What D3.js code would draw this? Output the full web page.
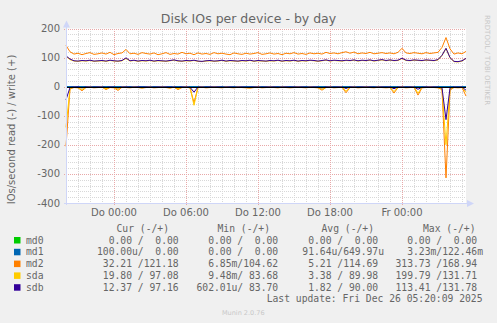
<!DOCTYPE html>
<html>
<head>
<meta charset="utf-8">
<script src="https://cdn.jsdelivr.net/npm/d3@7"></script>
<style>
  body { margin: 0; background: #f0f0f0; }
  svg { display: block; }
</style>
</head>
<body>
<div id="chart"></div>
<script>
// --- Data (read values stored positive, drawn below zero) ---
const seriesNames = ["md0", "md1", "md2", "sda", "sdb"];
const seriesColors = ["#00cc00", "#0066b3", "#ff8000", "#ffcc00", "#330099"];

// 101 samples, 20 minutes apart, starting Wed 24 Dec 2025 20:00
const md0Write = [0,0,0,0,0,0,0,0,0,0,0,0,0,0,0,0,0,0,0,0,0,0,0,0,0,0,0,0,0,0,0,0,0,0,0,0,0,0,0,0,0,0,0,0,0,0,0,0,0,0,0,0,0,0,0,0,0,0,0,0,0,0,0,0,0,0,0,0,0,0,0,0,0,0,0,0,0,0,0,0,0,0,0,0,0,0,0,0,0,0,0,0,0,0,0,0,0,0,0,0,0];
const md0Read  = md0Write;
const md1Write = [0,0,0,0,0,0,0,0,0,0,0,0,0,0,0,0,0,0,0,0,0,0,0,0,0,0,0,0,0,0,0,0,0,0,0,0,0,0,0,0,0,0,0,0,0,0,0,0,0,0,0,0,0,0,0,0,0,0,0,0,0,0,0,0,0,0,0,0,0,0,0,0,0,0,0,0,0,0,0,0,0,0,0,0,0,0,0,0,0,0,0,0,0,0,0,0,0,0,0,0,0];
const md1Read  = md1Write;

const md2Write = [142,120,112,115,110,114,117,111,113,116,112,118,110,114,116,128,113,115,111,117,
  114,112,116,110,113,117,111,114,112,118,113,115,110,116,112,114,111,117,113,115,
  112,110,116,113,111,115,112,114,117,111,113,116,112,114,110,115,113,117,112,114,
  111,116,113,115,112,118,114,116,113,117,120,115,119,113,116,114,118,113,115,117,
  114,116,113,118,132,116,114,117,115,113,117,114,116,118,135,168.94,130,112,116,113,121.18];
const sdaWrite = [104,93,88,87,89,88,90,87,88,89,87,90,88,87,89,97,88,90,87,89,
  88,90,87,89,88,87,89,91,88,87,89,88,90,87,86,88,89,87,88,90,
  87,89,88,87,89,88,90,87,89,88,87,89,88,90,87,89,88,90,87,89,
  88,90,89,87,89,91,88,90,89,88,90,89,91,88,90,89,91,88,90,92,
  89,91,89,90,97,90,89,91,90,89,91,90,89,92,107,131.71,99,86,85,88,97.08];
const sdbWrite = [106,95,89,88,90,89,91,88,89,90,88,91,89,88,90,99,89,91,88,90,
  89,91,88,90,89,88,90,92,89,88,90,89,91,88,87,89,90,88,89,91,
  88,90,89,88,90,89,91,88,90,89,88,90,89,91,88,90,89,91,88,90,
  89,91,90,88,90,92,89,91,90,89,91,90,92,89,91,90,92,89,91,93,
  90,92,90,91,98,91,90,92,91,90,92,91,90,93,108,131.78,100,87,86,89,97.16];

const md2Read = [205,8,3,4,14,3,2,4,3,2,10,3,4,13,2,3,4,2,3,5,
  3,2,4,3,2,3,5,2,10,3,2,4,55,3,2,4,3,2,3,4,
  2,3,4,2,3,4,5,3,2,4,3,2,3,4,2,3,4,3,2,3,
  4,2,3,4,12,3,2,4,3,2,21,3,2,4,3,2,3,4,2,3,
  4,3,22,3,2,4,3,2,29,4,3,2,3,4,10,313.73,12,3,4,3,32.21];
const sdaRead = [140,6,2,3,10,2,1,3,2,1,7,2,3,9,1,2,3,1,2,4,
  2,1,3,2,1,2,4,1,7,2,1,3,64,2,1,3,2,1,2,3,
  1,2,3,1,2,3,4,2,1,3,2,1,2,3,1,2,3,2,1,2,
  3,1,2,3,9,2,1,3,2,1,16,2,1,3,2,1,2,3,1,2,
  3,2,17,2,1,3,2,1,22,3,2,1,2,3,8,199.79,9,2,3,2,19.8];
const sdbRead = [45,3,1,1,4,1,1,2,1,1,3,1,2,4,1,1,2,1,1,2,
  1,1,2,1,1,1,2,1,3,1,1,2,19,1,1,2,1,1,1,2,
  1,1,2,1,1,2,2,1,1,2,1,1,1,2,1,1,2,1,1,1,
  2,1,1,2,4,1,1,2,1,1,6,1,1,2,1,1,1,2,1,1,
  2,1,7,1,1,2,1,1,9,2,1,1,1,2,4,113.41,5,1,2,1,12.37];

const writeData = [md0Write, md1Write, md2Write, sdaWrite, sdbWrite];
const readData = [md0Read, md1Read, md2Read, sdaRead, sdbRead];

const yTicks = [200, 100, 0, -100, -200, -300, -400];
const xTickLabels = ["Do 00:00", "Do 06:00", "Do 12:00", "Do 18:00", "Fr 00:00"];
const xTickHours = [4, 10, 16, 22, 28]; // hours after start

const curText = ["  0.00 /  0.00 ", "100.00u/  0.00 ", " 32.21 /121.18 ", " 19.80 / 97.08 ", " 12.37 / 97.16 "];
const minText = ["  0.00 /  0.00 ", "  0.00 /  0.00 ", "  6.85m/104.62 ", "  9.48m/ 83.68 ", "602.01u/ 83.70 "];
const avgText = ["  0.00 /  0.00 ", " 91.64u/649.97u", "  5.21 /114.69 ", "  3.38 / 89.98 ", "  1.82 / 90.00 "];
const maxText = ["  0.00 /  0.00 ", "  3.23m/122.46m", "313.73 /168.94 ", "199.79 /131.71 ", "113.41 /131.78 "];

// --- Layout ---
const width = 497;
const height = 323;
const plot = { left: 66, right: 466, top: 28.5, bottom: 203 };
const fontColor = "#666";

const start = new Date(2025, 11, 24, 20, 0, 0);
const end = new Date(2025, 11, 26, 5, 20, 0);
const times = md2Write.map((d, i) => new Date(+start + i * 20 * 60 * 1000));

const x = d3.scaleTime().domain([start, end]).range([plot.left, plot.right]);
const y = d3.scaleLinear().domain([-400, 200]).range([plot.bottom, plot.top]);

const svg = d3
  .select("#chart")
  .append("svg")
  .attr("width", width)
  .attr("height", height)
  .style("font-family", "'DejaVu Sans', sans-serif");

svg.append("rect").attr("width", width).attr("height", height).attr("fill", "#f0f0f0");
svg
  .append("rect")
  .attr("x", plot.left)
  .attr("y", plot.top)
  .attr("width", plot.right - plot.left)
  .attr("height", plot.bottom - plot.top)
  .attr("fill", "#fff");

// --- Grid ---
const grid = svg.append("g").attr("shape-rendering", "crispEdges").attr("stroke-dasharray", "1,1");

const hourTicks = d3.timeHour.range(d3.timeHour.offset(start, 1), end);
grid
  .selectAll(".vminor")
  .data(hourTicks.filter((d) => d.getHours() % 6 !== 0))
  .join("line")
  .attr("x1", (d) => Math.round(x(d)) + 0.5)
  .attr("x2", (d) => Math.round(x(d)) + 0.5)
  .attr("y1", plot.top)
  .attr("y2", plot.bottom)
  .attr("stroke", "#d8d8d8");

grid
  .selectAll(".hminor")
  .data(d3.range(-380, 200, 20).filter((v) => v % 100 !== 0))
  .join("line")
  .attr("x1", plot.left)
  .attr("x2", plot.right)
  .attr("y1", (d) => Math.round(y(d)) + 0.5)
  .attr("y2", (d) => Math.round(y(d)) + 0.5)
  .attr("stroke", "#d8d8d8");

grid
  .selectAll(".vmajor")
  .data(xTickHours)
  .join("line")
  .attr("x1", (d) => Math.round(x(d3.timeHour.offset(start, d))) + 0.5)
  .attr("x2", (d) => Math.round(x(d3.timeHour.offset(start, d))) + 0.5)
  .attr("y1", plot.top)
  .attr("y2", plot.bottom + 3)
  .attr("stroke", "#e8a8a8");

grid
  .selectAll(".hmajor")
  .data(yTicks.filter((v) => v !== -400))
  .join("line")
  .attr("x1", plot.left - 2)
  .attr("x2", plot.right)
  .attr("y1", (d) => Math.round(y(d)) + 0.5)
  .attr("y2", (d) => Math.round(y(d)) + 0.5)
  .attr("stroke", "#e8a8a8");

// --- Lines ---
const line = d3
  .line()
  .x((d, i) => x(times[i]))
  .y((d) => y(d));

seriesNames.forEach((name, k) => {
  svg
    .append("path")
    .datum(writeData[k])
    .attr("fill", "none")
    .attr("stroke", seriesColors[k])
    .attr("stroke-width", 1)
    .attr("d", line);
  svg
    .append("path")
    .datum(readData[k].map((v) => -v))
    .attr("fill", "none")
    .attr("stroke", seriesColors[k])
    .attr("stroke-width", 1)
    .attr("d", line);
});

// zero rule
svg
  .append("line")
  .attr("x1", plot.left)
  .attr("x2", plot.right)
  .attr("y1", Math.round(y(0)) + 0.5)
  .attr("y2", Math.round(y(0)) + 0.5)
  .attr("stroke", "#000")
  .attr("shape-rendering", "crispEdges");

// --- Axes ---
const axisColor = "#cfd6f8";
svg
  .append("line")
  .attr("x1", plot.left + 0.5)
  .attr("x2", plot.left + 0.5)
  .attr("y1", plot.bottom + 2)
  .attr("y2", plot.top - 6)
  .attr("stroke", axisColor);
svg
  .append("path")
  .attr("d", `M${plot.left - 3},${plot.top - 1} L${plot.left + 0.5},${plot.top - 8} L${plot.left + 4},${plot.top - 1} Z`)
  .attr("fill", axisColor);
svg
  .append("line")
  .attr("x1", plot.left - 2)
  .attr("x2", plot.right + 5)
  .attr("y1", plot.bottom + 0.5)
  .attr("y2", plot.bottom + 0.5)
  .attr("stroke", axisColor);
svg
  .append("path")
  .attr("d", `M${plot.right + 1},${plot.bottom - 3} L${plot.right + 8},${plot.bottom + 0.5} L${plot.right + 1},${plot.bottom + 4} Z`)
  .attr("fill", axisColor);

svg
  .append("g")
  .selectAll("text")
  .data(yTicks)
  .join("text")
  .attr("x", 60)
  .attr("y", (d) => y(d) + 3.5)
  .attr("text-anchor", "end")
  .attr("font-size", 10)
  .attr("fill", fontColor)
  .text((d) => d);

svg
  .append("g")
  .selectAll("text")
  .data(xTickHours)
  .join("text")
  .attr("x", (d) => x(d3.timeHour.offset(start, d)))
  .attr("y", 215.5)
  .attr("text-anchor", "middle")
  .attr("font-size", 10)
  .attr("fill", fontColor)
  .text((d, i) => xTickLabels[i]);

// --- Titles ---
svg
  .append("text")
  .attr("x", 248.5)
  .attr("y", 23)
  .attr("text-anchor", "middle")
  .attr("font-size", 12.5)
  .attr("fill", fontColor)
  .text("Disk IOs per device - by day");

svg
  .append("text")
  .attr("transform", "translate(15,129.5) rotate(-90)")
  .attr("text-anchor", "middle")
  .attr("font-size", 10)
  .attr("fill", fontColor)
  .text("IOs/second read (-) / write (+)");

svg
  .append("text")
  .attr("transform", "translate(485,15) rotate(90)")
  .attr("font-size", 7)
  .attr("fill", "#c8c8c8")
  .text("RRDTOOL / TOBI OETIKER");

// --- Legend ---
const mono = "'DejaVu Sans Mono', monospace";
const legend = svg.append("g").style("font-family", mono).attr("font-size", 9.7).attr("fill", fontColor);

const headers = [
  { x: 116.5, t: "Cur (-/+)" },
  { x: 217.5, t: "Min (-/+)" },
  { x: 321.5, t: "Avg (-/+)" },
  { x: 423, t: "Max (-/+)" },
];
legend
  .selectAll(".hdr")
  .data(headers)
  .join("text")
  .attr("x", (d) => d.x)
  .attr("y", 231.5)
  .text((d) => d.t);

const colX = [97, 196.5, 296.5, 395.5];
const cols = [curText, minText, avgText, maxText];
seriesNames.forEach((name, k) => {
  const by = 243.5 + k * 11.8;
  svg
    .append("rect")
    .attr("x", 14)
    .attr("y", by - 6.5)
    .attr("width", 6.5)
    .attr("height", 6.5)
    .attr("fill", seriesColors[k]);
  legend.append("text").attr("x", 26).attr("y", by).text(name);
  cols.forEach((col, c) => {
    legend
      .append("text")
      .attr("x", colX[c])
      .attr("y", by)
      .style("white-space", "pre")
      .text(col[k]);
  });
});

legend
  .append("text")
  .attr("x", 482.5)
  .attr("y", 302)
  .attr("text-anchor", "end")
  .style("white-space", "pre")
  .text("Last update: Fri Dec 26 05:20:09 2025");

svg
  .append("text")
  .attr("x", 222)
  .attr("y", 315)
  .attr("font-size", 6.5)
  .attr("fill", "#c8c8c8")
  .text("Munin 2.0.76");
</script>
</body>
</html>
